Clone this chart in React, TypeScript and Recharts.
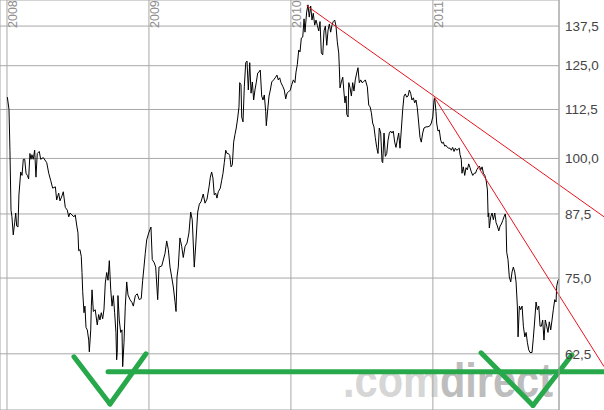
import { LineChart, Line, XAxis, YAxis, CartesianGrid, ReferenceLine } from "recharts";

// time axis in months counted from January 2008
const months = [
  0.03, 0.17, 0.25, 0.34, 0.42, 0.53, 0.65, 0.74, 0.82, 0.93,
  1.01, 1.16, 1.27, 1.38, 1.5, 1.61, 1.72, 1.83, 1.94, 2.03,
  2.11, 2.22, 2.34, 2.45, 2.56, 2.73, 2.85, 3.07, 3.36, 3.53,
  3.69, 3.86, 4.09, 4.2, 4.37, 4.48, 4.65, 4.76, 4.93, 5.1,
  5.22, 5.33, 5.49, 5.66, 5.77, 5.89, 6.0, 6.06, 6.17, 6.28,
  6.34, 6.4, 6.51, 6.59, 6.68, 6.79, 6.91, 6.96, 7.08, 7.13,
  7.19, 7.3, 7.46, 7.63, 7.75, 7.86, 7.97, 8.09, 8.2, 8.31,
  8.43, 8.54, 8.65, 8.77, 8.88, 8.99, 9.1, 9.21, 9.27, 9.32,
  9.38, 9.49, 9.61, 9.72, 9.78, 9.89, 10.0, 10.12, 10.23, 10.4,
  10.57, 10.68, 10.85, 11.01, 11.18, 11.35, 11.47, 11.58, 11.69, 11.81,
  11.98, 12.17, 12.28, 12.45, 12.57, 12.74, 12.85, 13.08, 13.36, 13.5,
  13.64, 13.78, 13.92, 14.06, 14.2, 14.29, 14.37, 14.48, 14.62, 14.77,
  14.9, 15.05, 15.22, 15.38, 15.53, 15.66, 15.83, 15.95, 16.12, 16.26,
  16.4, 16.59, 16.74, 16.91, 17.08, 17.19, 17.3, 17.41, 17.52, 17.64,
  17.75, 17.86, 18.03, 18.15, 18.26, 18.37, 18.49, 18.6, 18.71, 18.83,
  18.94, 19.05, 19.16, 19.27, 19.38, 19.5, 19.61, 19.67, 19.78, 19.84,
  19.95, 20.06, 20.18, 20.29, 20.4, 20.52, 20.63, 20.74, 20.85, 20.96,
  21.07, 21.19, 21.3, 21.41, 21.53, 21.64, 21.75, 21.87, 21.92, 22.04,
  22.15, 22.26, 22.38, 22.54, 22.71, 22.82, 22.93, 23.05, 23.16, 23.33,
  23.44, 23.56, 23.67, 23.78, 23.95, 24.07, 24.21, 24.34, 24.43, 24.54,
  24.66, 24.77, 24.88, 25.0, 25.11, 25.19, 25.33, 25.44, 25.55, 25.67,
  25.78, 25.89, 26.01, 26.12, 26.23, 26.35, 26.46, 26.57, 26.69, 26.8,
  26.91, 27.03, 27.14, 27.25, 27.36, 27.47, 27.58, 27.7, 27.81, 27.92,
  28.04, 28.09, 28.15, 28.26, 28.38, 28.49, 28.57, 28.66, 28.72, 28.83,
  28.89, 29.0, 29.11, 29.22, 29.33, 29.44, 29.56, 29.67, 29.78, 29.9,
  30.01, 30.12, 30.29, 30.46, 30.58, 30.69, 30.8, 30.91, 31.02, 31.13,
  31.25, 31.36, 31.47, 31.59, 31.7, 31.76, 31.87, 31.98, 32.1, 32.21,
  32.32, 32.43, 32.54, 32.65, 32.77, 32.88, 32.99, 33.11, 33.22, 33.33,
  33.45, 33.56, 33.67, 33.78, 33.9, 34.01, 34.12, 34.23, 34.35, 34.46,
  34.57, 34.68, 34.8, 34.91, 35.02, 35.14, 35.25, 35.42, 35.59, 35.76,
  35.87, 35.99, 36.1, 36.15, 36.26, 36.32, 36.43, 36.54, 36.66, 36.77,
  36.88, 37.0, 37.11, 37.22, 37.34, 37.45, 37.56, 37.67, 37.79, 37.9,
  38.01, 38.12, 38.23, 38.29, 38.4, 38.46, 38.57, 38.69, 38.8, 38.91,
  39.03, 39.14, 39.25, 39.37, 39.49, 39.6, 39.71, 39.82, 39.93, 40.05,
  40.16, 40.27, 40.39, 40.5, 40.61, 40.67, 40.72, 40.77, 40.89, 41.0,
  41.11, 41.23, 41.34, 41.45, 41.57, 41.68, 41.79, 41.9, 42.01, 42.12,
  42.18, 42.24, 42.35, 42.46, 42.58, 42.69, 42.8, 42.92, 43.03, 43.14,
  43.2, 43.31, 43.42, 43.54, 43.65, 43.77, 43.88, 43.99, 44.1, 44.21,
  44.38, 44.49, 44.61, 44.72, 44.83, 44.95, 45.06, 45.17, 45.28, 45.39,
  45.5, 45.62, 45.73, 45.84, 45.96, 46.07, 46.18, 46.3, 46.41, 46.47,
  46.58, 46.64,
];

const prices = [
  115.9, 112.5, 102, 88.3, 86.9, 83.2, 85.7, 87.7, 85.0, 84.8,
  91.6, 96.8, 96.0, 99.8, 99.8, 96.5, 96.0, 95.2, 101.2, 99.8,
  100.9, 99.8, 102.0, 95.6, 101.2, 101.7, 99.8, 100.2, 99.0, 96.5,
  94.9, 93.1, 93.4, 90.5, 92.0, 90.3, 91.4, 92.3, 88.9, 88.3,
  86.9, 87.7, 87.3, 86.9, 87.3, 85.2, 83.6, 80.1, 80.3, 79.0,
  76.0, 72.6, 69.0, 70.1, 66.6, 66.2, 64.6, 62.8, 66.2, 70.1,
  72.9, 69.2, 69.5, 67.0, 68.7, 67.8, 69.0, 68.0, 69.6, 74.1,
  76.0, 74.6, 78.2, 72.9, 70.1, 71.9, 69.0, 65.8, 61.6, 62.7,
  71.9, 67.8, 65.8, 66.2, 60.6, 64.2, 70.1, 74.3, 72.0, 71.2,
  70.7, 70.1, 71.9, 72.2, 71.2, 71.4, 74.6, 77.0, 79.6, 82.2,
  83.6, 84.8, 78.4, 77.8, 77.0, 71.2, 77.0, 77.2, 79.6, 82.0,
  80.3, 77.0, 75.2, 73.4, 70.9, 69.2, 75.2, 77.0, 82.6, 80.9,
  78.8, 80.9, 81.6, 83.6, 87.9, 86.3, 77.0, 81.0, 87.9, 89.6,
  90.1, 91.8, 89.8, 90.7, 93.4, 95.6, 96.8, 95.4, 91.6, 92.0,
  90.9, 92.3, 93.1, 94.9, 96.5, 99.0, 102.0, 101.2, 101.2, 100.7,
  98.0, 98.5, 104.0, 105.9, 107.6, 110.2, 113.2, 120.0, 119.4, 110.5,
  109.2, 118.8, 125.9, 126.4, 117.9, 125.9, 117.0, 120.2, 115.1, 117.9,
  120.0, 122.8, 123.1, 123.7, 116.2, 115.1, 116.5, 111.9, 108.2, 112.5,
  116.2, 117.9, 120.2, 120.8, 121.6, 122.2, 120.8, 121.4, 120.0, 118.8,
  117.9, 115.4, 117.0, 117.3, 117.9, 119.4, 120.8, 120.0, 123.1, 125.3,
  129.8, 129.2, 133.6, 133.9, 139.9, 135.5, 142.2, 144.7, 140.5, 144.3,
  139.5, 141.8, 137.8, 139.5, 137.8, 135.9, 139.0, 128.9, 128.3, 135.9,
  137.5, 131.3, 136.2, 138.2, 135.5, 137.8, 139.0, 139.5, 137.5, 132.4,
  128.9, 124.7, 118.5, 120.2, 121.6, 117.0, 114.3, 116.2, 111.2, 110.5,
  120.0, 118.5, 116.2, 120.0, 117.6, 120.8, 122.8, 124.4, 120.0, 120.8,
  120.0, 120.2, 120.8, 118.8, 113.6, 113.3, 111.6, 108.9, 107.9, 105.2,
  102.7, 101.2, 107.6, 106.3, 99.3, 99.0, 106.3, 100.5, 101.2, 104.5,
  106.3, 106.8, 106.3, 106.8, 104.0, 102.7, 104.5, 106.3, 102.5, 107.1,
  112.5, 116.2, 116.8, 115.9, 116.2, 117.9, 117.0, 115.1, 115.7, 114.3,
  115.1, 113.0, 108.9, 105.2, 104.0, 106.3, 107.6, 107.9, 107.9, 108.2,
  108.9, 110.5, 115.1, 115.7, 112.0, 108.9, 106.8, 107.1, 104.5, 103.7,
  104.0, 103.0, 103.2, 102.7, 102.5, 102.5, 102.0, 102.7, 101.7, 102.5,
  102.0, 102.2, 102.5, 101.0, 99.8, 96.5, 98.0, 96.0, 97.8, 97.3,
  98.7, 97.8, 96.8, 96.0, 96.5, 96.5, 97.3, 97.8, 98.2, 97.3,
  98.0, 96.5, 96.0, 94.9, 92.7, 86.9, 87.7, 84.6, 86.9, 87.7,
  86.3, 87.7, 85.7, 85.0, 84.0, 85.0, 85.4, 86.1, 86.9, 87.5,
  86.3, 79.8, 78.4, 75.2, 74.3, 76.1, 77.0, 76.1, 74.3, 70.1,
  65.1, 70.1, 69.5, 70.1, 66.8, 65.1, 65.8, 64.2, 63.1, 62.7,
  62.7, 64.9, 67.8, 70.8, 69.5, 70.1, 66.8, 66.8, 67.8, 64.6,
  67.8, 66.8, 65.8, 67.5, 66.2, 67.8, 69.5, 71.2, 70.8, 73.6,
  74.6, 74.8,
];

const yearTicks = [0, 12, 24, 36];
const yearLabels = ["2008", "2009", "2010", "2011"];
const priceTicks = [62.5, 75, 87.5, 100, 112.5, 125, 137.5];

// hand-drawn annotations, as [month, price] end points
const redTrends = [
  [[25.33, 144.4], [50.47, 86.9]],
  [[36.15, 115.7], [50.47, 60.6]],
];
const greenMarks = [
  [[5.66, 62.05], [8.71, 55.4]],
  [[8.71, 55.4], [11.75, 62.5]],
  [[8.54, 59.85], [50.47, 59.85]],
  [[40.07, 62.65], [44.46, 55.2]],
  [[44.46, 55.2], [47.76, 62.35]],
];

const n = Math.min(months.length, prices.length);
const data = months.slice(0, n).map((m, i) => ({ m, price: prices[i] }));

const font = "'Liberation Sans', Arial, sans-serif";

const YearTick = (props: any) => {
  const { x, payload } = props;
  const label = yearLabels[yearTicks.indexOf(payload.value)];
  const tx = x + 10;
  return (
    <text
      x={tx}
      y={28}
      transform={`rotate(-90 ${tx} 28)`}
      fill="#8e8e8e"
      fontSize={12.5}
      fontFamily={font}
    >
      {label}
    </text>
  );
};

const App = () => {
  return (
    <div style={{ position: "absolute", left: 0, top: 0, width: 604, height: 410, background: "#fff" }}>
      <svg width={604} height={410} style={{ position: "absolute", left: 0, top: 0 }}>
        <text
          x={343}
          y={397}
          fontSize={49}
          fontWeight="bold"
          fontFamily={font}
          textLength={210}
          lengthAdjust="spacingAndGlyphs"
        >
          <tspan fill="#d6d6d6">.com</tspan>
          <tspan fill="#bdbdbd">direct</tspan>
        </text>
      </svg>
      <div style={{ position: "absolute", left: 0, top: 0 }}>
        <LineChart
          width={604}
          height={410}
          data={data}
          margin={{ top: -1, right: 0, bottom: 0, left: 0 }}
          accessibilityLayer={false}
        >
          <CartesianGrid stroke="#a8a8a8" />
          <XAxis
            dataKey="m"
            type="number"
            orientation="top"
            height={1}
            domain={[-0.59, 46.66]}
            allowDataOverflow
            ticks={yearTicks}
            interval={0}
            axisLine={false}
            tickLine={false}
            tick={<YearTick />}
          />
          <YAxis
            orientation="right"
            width={45}
            scale="log"
            domain={[54.6, 146.4]}
            allowDataOverflow
            ticks={priceTicks}
            interval={0}
            tickFormatter={(v: number) => v.toFixed(1).replace(".", ",")}
            axisLine={{ stroke: "#a8a8a8" }}
            tickLine={false}
            tickSize={4}
            tickMargin={2}
            tick={{ fill: "#444", fontSize: 13.5, fontFamily: font }}
          />
          <Line
            dataKey="price"
            stroke="#000"
            strokeWidth={1}
            dot={false}
            activeDot={false}
            isAnimationActive={false}
          />
          {redTrends.map((s, i) => (
            <ReferenceLine
              key={"r" + i}
              segment={[{ x: s[0][0], y: s[0][1] }, { x: s[1][0], y: s[1][1] }]}
              stroke="#e8141e"
              strokeWidth={1}
              ifOverflow="visible"
            />
          ))}
          {greenMarks.map((s, i) => (
            <ReferenceLine
              key={"g" + i}
              segment={[{ x: s[0][0], y: s[0][1] }, { x: s[1][0], y: s[1][1] }]}
              stroke="#27a84a"
              strokeWidth={5}
              strokeLinecap="round"
              ifOverflow="visible"
            />
          ))}
        </LineChart>
      </div>
    </div>
  );
};

export default App;
